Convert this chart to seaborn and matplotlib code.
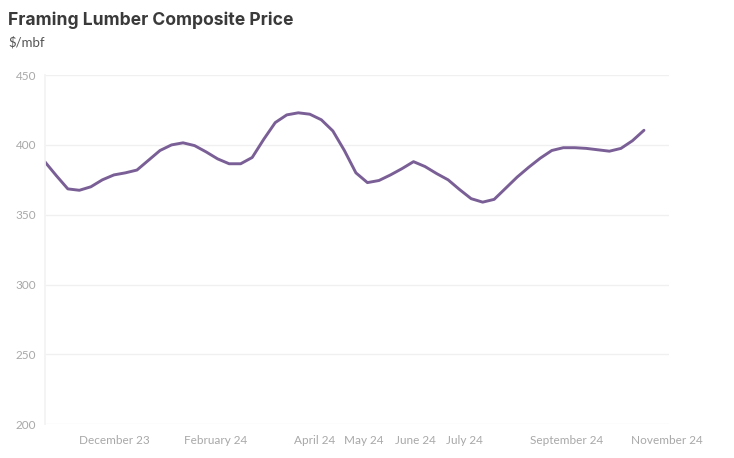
import pandas as pd
import seaborn as sns
import matplotlib.pyplot as plt
import matplotlib.dates as mdates

# weekly composite price, $/mbf
start_date = "2023-10-20"
prices = [388, 378, 368.5, 367.5, 370, 375, 378.5, 380, 382, 389,
          396, 400, 401.5, 399.5, 395, 390, 386.5, 386.5, 391, 404,
          416, 421.5, 423, 422, 418, 410, 396, 380, 373, 374.5,
          378.5, 383, 388, 384.5, 379.5, 375, 368, 361.5, 359, 361,
          369, 377, 384, 390.5, 396, 398, 398, 397.5, 396.5, 395.5,
          397.5, 403, 410.5]
tick_months = ["2023-12-01", "2024-02-01", "2024-04-01", "2024-05-01",
               "2024-06-01", "2024-07-01", "2024-09-01", "2024-11-01"]
tick_labels = ["December 23", "February 24", "April 24", "May 24",
               "June 24", "July 24", "September 24", "November 24"]
y_ticks = [200, 250, 300, 350, 400, 450]

df = pd.DataFrame({
    "date": pd.date_range(start_date, periods=len(prices), freq="7D"),
    "price": prices,
})

sns.set_theme(style="white")
plt.rcParams["font.family"] = ["Lato", "DejaVu Sans"]

fig = plt.figure(figsize=(7.34, 4.58), dpi=100)
ax = fig.add_axes([0.061, 0.074, 0.85, 0.762])

sns.lineplot(data=df, x="date", y="price", ax=ax, color="#7a5f96",
             linewidth=2.1, solid_joinstyle="round", solid_capstyle="round")

ax.set_ylim(200, 450)
ax.set_xlim(pd.Timestamp(start_date), pd.Timestamp("2024-11-02"))
ax.set_yticks(y_ticks)
ax.set_yticklabels([str(v) for v in y_ticks])
ax.set_xticks([mdates.date2num(pd.Timestamp(d)) for d in tick_months])
ax.set_xticklabels(tick_labels)
ax.tick_params(axis="both", length=0, labelsize=8.5, labelcolor="#a8a8a8")
ax.tick_params(axis="y", pad=6)
ax.tick_params(axis="x", pad=8)
ax.grid(axis="y", color="#f0f0f0", linewidth=1)
ax.set_xlabel("")
ax.set_ylabel("")
for side in ["top", "right", "bottom"]:
    ax.spines[side].set_visible(False)
ax.spines["left"].set_color("#f3f3f3")

fig.text(0.011, 0.955, "Framing Lumber Composite Price", fontsize=12.6,
         fontweight="bold", color="#3a3a3a", va="center",
         family=["Inter", "DejaVu Sans"])
fig.text(0.011, 0.908, "$/mbf", fontsize=9.5, color="#555555", va="center")

fig.savefig("out.png", dpi=100)
